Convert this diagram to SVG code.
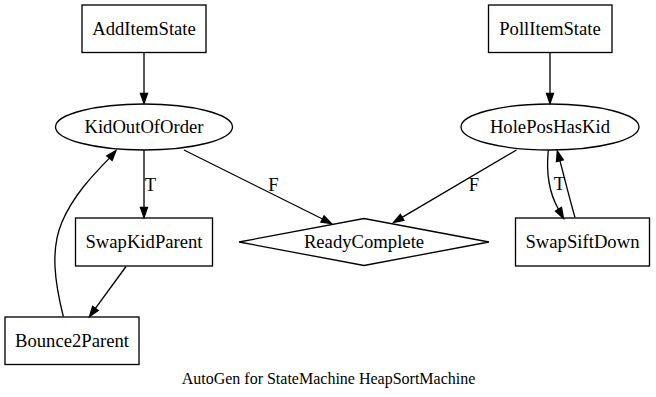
<svg xmlns="http://www.w3.org/2000/svg" width="656" height="397" viewBox="0 0 656 397">
  <style>
    .shape { fill: #ffffff; stroke: #000000; stroke-width: 1.33; }
    .edge { fill: none; stroke: #000000; stroke-width: 1.33; }
    .head { fill: #000000; stroke: #000000; stroke-width: 1.33; }
    text { font-family: 'Liberation Serif', 'DejaVu Serif', serif; font-size: 18.67px; fill: #000000; text-anchor: middle; }
    .title { font-size: 16px; }
  </style>
  <rect width="656" height="397" fill="#ffffff"/>

  <!-- states -->
  <g id="AddItemState">
    <rect class="shape" x="82" y="5" width="124" height="47.5"/>
    <text x="144" y="35">AddItemState</text>
  </g>
  <g id="PollItemState">
    <rect class="shape" x="488.5" y="5" width="123.5" height="47.5"/>
    <text x="550" y="35">PollItemState</text>
  </g>
  <g id="KidOutOfOrder">
    <ellipse class="shape" cx="144" cy="127" rx="88.5" ry="23"/>
    <text x="144" y="133">KidOutOfOrder</text>
  </g>
  <g id="HolePosHasKid">
    <ellipse class="shape" cx="550" cy="127" rx="89" ry="23"/>
    <text x="550" y="133">HolePosHasKid</text>
  </g>
  <g id="SwapKidParent">
    <rect class="shape" x="75.5" y="218" width="137" height="48"/>
    <text x="144" y="248">SwapKidParent</text>
  </g>
  <g id="ReadyComplete">
    <polygon class="shape" points="239,242 364,218.5 489,242 364,265.5"/>
    <text x="364" y="248">ReadyComplete</text>
  </g>
  <g id="SwapSiftDown">
    <rect class="shape" x="515.5" y="218" width="134" height="48"/>
    <text x="582.5" y="248">SwapSiftDown</text>
  </g>
  <g id="Bounce2Parent">
    <rect class="shape" x="5" y="317" width="134" height="47.5"/>
    <text x="72" y="347">Bounce2Parent</text>
  </g>

  <!-- transitions -->
  <g id="connectors">
    <!-- AddItemState -> KidOutOfOrder -->
    <path class="edge" d="M144,52.5 L144,93.5"/>
    <polygon class="head" points="140.5,93.5 144,103.5 147.5,93.5"/>

    <!-- PollItemState -> HolePosHasKid -->
    <path class="edge" d="M550,52.5 L550,93.5"/>
    <polygon class="head" points="546.5,93.5 550,103.5 553.5,93.5"/>

    <!-- KidOutOfOrder -> SwapKidParent (T) -->
    <path class="edge" d="M144,150 L144,207.5"/>
    <polygon class="head" points="140.5,207.5 144,217.5 147.5,207.5"/>
    <text x="150.5" y="191">T</text>

    <!-- KidOutOfOrder -> ReadyComplete (F) -->
    <path class="edge" d="M184,150 L322.5,219"/>
    <polygon class="head" points="320.9,222.1 331.5,223.5 324.1,215.9"/>
    <text x="273.5" y="191">F</text>

    <!-- HolePosHasKid -> ReadyComplete (F) -->
    <path class="edge" d="M516.5,150 L402.1,217.4"/>
    <polygon class="head" points="403.9,220.4 393.5,222.5 400.3,214.4"/>
    <text x="474" y="191">F</text>

    <!-- HolePosHasKid -> SwapSiftDown (T) -->
    <path class="edge" d="M548.3,150.5 C546.5,168 547.5,190 558.5,209.3"/>
    <polygon class="head" points="561.5,207.3 563.5,218.5 555.5,211"/>
    <text x="559.5" y="190">T</text>

    <!-- SwapSiftDown -> HolePosHasKid -->
    <path class="edge" d="M575,217.5 C570,200 565,180 559.9,160.7"/>
    <polygon class="head" points="563.3,159.8 557.3,151 556.5,161.6"/>

    <!-- SwapKidParent -> Bounce2Parent -->
    <path class="edge" d="M126,266.5 L95.4,308.4"/>
    <polygon class="head" points="98.2,310.5 89.5,316.5 92.6,306.3"/>

    <!-- Bounce2Parent -> KidOutOfOrder -->
    <path class="edge" d="M63.3,316.5 C55,283 50,250 62,222 C73,196 92,176 109.4,158.1"/>
    <polygon class="head" points="112.1,160.4 116,150.5 106.8,155.8"/>
  </g>

  <text class="title" x="328.5" y="384">AutoGen for StateMachine HeapSortMachine</text>
</svg>
